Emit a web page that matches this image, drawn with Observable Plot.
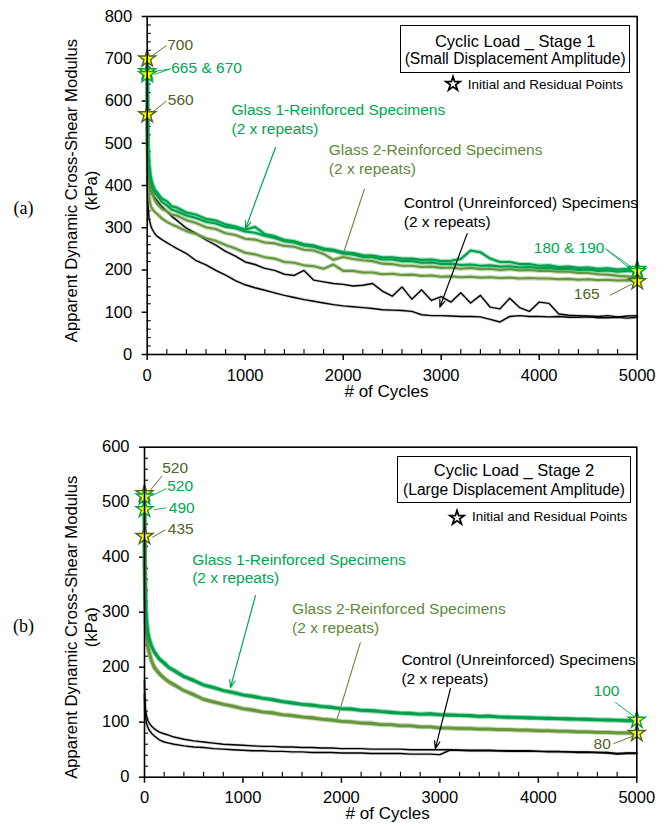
<!DOCTYPE html>
<html>
<head>
<meta charset="utf-8">
<script src="https://cdn.jsdelivr.net/npm/d3@7"></script>
<script src="https://cdn.jsdelivr.net/npm/@observablehq/plot@0.6"></script>
<style>
  body { margin: 0; background: #fff; font-family: "Liberation Sans", Arial, Helvetica, sans-serif; }
  #wrap { position: relative; width: 672px; height: 828px; overflow: hidden; background: #fff; }
  .panel { position: absolute; left: 0; }
  .tbox { position: absolute; border: 1.5px solid #000; box-sizing: border-box; }
  .tline { position: absolute; text-align: center; font-size: 16.5px; line-height: 20px; color: #000; white-space: nowrap; }
  .leg { position: absolute; font-size: 13.5px; line-height: 20px; color: #000; white-space: nowrap; }
  .legstar { position: absolute; width: 20px; height: 20px; }
</style>
</head>
<body>
<div id="wrap">
  <div class="panel" id="pa" style="top:0px"></div>
  <div class="panel" id="pb" style="top:420px"></div>
</div>
<script>
// ---------------- DATA ----------------
const cycles = [0,5,10,20,35,50,75,100,150,200,250,300,400,500,600,700,800,900,1000,1100,1200,1300,1400,1500,1600,1700,1800,1900,2000,2100,2200,2300,2400,2500,2600,2700,2800,2900,3000,3100,3200,3300,3400,3500,3600,3700,3800,3900,4000,4100,4200,4300,4400,4500,4600,4700,4800,4900,5000];

// Panel (a): Stage 1 (small displacement amplitude), kPa
const a_glass1_r1 = [670,540,488,452,421,407,391,384,369,363,351,348,336,331,321,317,308,303,296,302,285,280,271,268,261,258,251,248,242,240,235,234,230,230,227,227,224,225,221,222,226,246,242,227,219,219,214,214,210,211,207,208,205,206,203,204,201,203,202];
const a_glass1_r2 = [663,515,468,436,409,397,383,376,361,353,343,339,329,323,314,310,302,299,291,288,281,276,268,265,258,255,248,245,239,237,231,230,225,225,221,221,217,218,214,215,212,213,210,211,208,209,206,207,204,205,202,203,200,201,198,199,196,198,197];
const a_glass2_r1 = [700,500,452,418,394,381,366,357,345,339,331,329,318,311,301,297,287,283,274,272,265,263,257,255,248,246,238,224,231,226,223,221,215,214,210,210,207,208,205,206,203,205,202,203,200,202,199,200,198,198,196,196,193,193,190,189,186,185,182];
const a_glass2_r2 = [568,452,408,372,352,345,338,333,322,314,308,303,292,285,275,269,259,251,241,237,230,227,219,217,211,209,203,213,198,198,194,194,190,191,188,189,186,187,184,185,183,184,182,183,181,182,180,181,180,180,178,179,177,178,176,177,175,176,173];
const a_control_r1 = [440,422,411,399,389,381,372,364,350,339,327,318,299,286,271,259,244,233,219,213,204,199,190,187,199,176,172,168,166,162,164,168,150,138,160,131,153,128,137,124,146,122,140,112,108,133,111,102,124,121,96,93,92,91,90,92,89,91,92];
const a_control_r2 = [420,372,346,321,306,297,287,280,272,265,258,251,239,222,212,199,188,175,165,158,152,146,140,135,130,126,122,118,115,113,111,109,106,105,104,102,94,92,92,91,90,90,89,83,77,90,92,90,90,89,90,88,88,89,87,87,88,86,88];

// Panel (b): Stage 2 (large displacement amplitude), kPa
const b_glass1_r1 = [510,380,330,290,266,252,238,229,216,209,200,195,184,177,168,164,158,155,150,148,144,142,138,136,133,132,129,128,125,125,122,122,120,119,117,117,115,116,114,114,113,113,111,112,110,110,109,109,108,108,107,107,106,106,105,105,104,104,104];
const b_glass1_r2 = [487,360,318,284,262,249,236,226,214,206,198,193,182,175,167,162,157,153,149,146,143,140,137,134,132,130,128,126,124,123,121,120,119,117,116,115,114,114,113,112,112,111,110,110,109,108,108,107,107,106,106,105,105,104,104,103,103,102,102];
const b_glass2_r1 = [516,360,300,262,240,228,212,201,190,181,174,169,158,151,142,138,133,130,125,123,119,118,114,113,110,109,106,105,102,101,99,99,96,96,94,94,92,92,90,90,89,89,88,88,87,87,86,86,85,85,84,84,83,83,82,82,81,81,80];
const b_glass2_r2 = [438,330,285,252,233,222,208,198,187,179,172,167,157,149,141,136,132,128,124,121,118,116,113,111,109,107,105,103,101,100,98,97,95,95,93,93,91,91,89,89,88,88,87,87,86,86,85,85,84,84,83,83,82,82,81,81,80,80,79];
const b_control_r1 = [175,140,124,112,103,98,92,88,82,79,76,73,69,66,64,62,60,59,58,57,56,56,55,55,54,54,53,53,52,52,52,51,51,51,51,50,50,50,50,50,49,49,49,49,48,48,48,48,47,47,47,46,46,46,45,45,43,44,44];
const b_control_r2 = [150,125,110,98,90,85,79,75,68,64,62,60,57,55,54,52,51,50,49,48,48,47,47,46,46,45,45,45,44,44,44,43,43,43,43,42,42,42,41,49,49,48,48,48,48,47,47,47,47,46,46,46,45,45,45,44,42,43,43];

// Initial and residual points (stars)
const a_starCycle = [0,0,0,0,5000,5000,5000];
const a_starValue = [700,670,663,568,202,197,173];
const a_starGroup = ["Glass 2","Glass 1","Glass 1","Glass 2","Glass 1","Glass 1","Glass 2"];
const b_starCycle = [0,0,0,0,5000,5000];
const b_starValue = [516,510,487,438,104,80];
const b_starGroup = ["Glass 2","Glass 1","Glass 1","Glass 2","Glass 1","Glass 2"];

// Axis ticks
const xMajor = [0,1000,2000,3000,4000,5000];
const xMinor = [200,400,600,800,1200,1400,1600,1800,2200,2400,2600,2800,3200,3400,3600,3800,4200,4400,4600,4800];
const yMajorA = [0,100,200,300,400,500,600,700,800];
const yMinorA = [20,40,60,80,120,140,160,180,220,240,260,280,320,340,360,380,420,440,460,480,520,540,560,580,620,640,660,680,720,740,760,780];
const yMajorB = [0,100,200,300,400,500,600];
const yMinorB = [20,40,60,80,120,140,160,180,220,240,260,280,320,340,360,380,420,440,460,480,520,540,560,580];

// ---------------- STYLE ----------------
const FONT = '"Liberation Sans", Arial, Helvetica, sans-serif';
const LINE = {"Glass 1": "#00a04b", "Glass 2": "#66963c", "Control": "#000000"};
const TXT_G1 = "#00a650", TXT_G2 = "#5f8a3a", TXT_NUM2 = "#4f6228";

function toRows(list) {
  return list.flatMap(s => s.values.map((v, i) => ({cycle: cycles[i], value: v, series: s.name, group: s.group})));
}
function starRows(cs, vs, gs) {
  return cs.map((c, i) => ({cycle: c, value: vs[i], stroke: gs[i] === "Glass 1" ? "#00a04b" : "#4f6228"}));
}

function makePanel(cfg) {
  const {W, H, ml, mr, mt, mb, yMax, yMajor, yMinor, rows, stars, nums, blocks, links, arrows, plain, tag, yLab, xLab} = cfg;
  const fw = W - ml - mr, fh = H - mt - mb;
  const lineMarks = [];
  for (const g of ["Control", "Glass 2", "Glass 1"]) {
    const d = rows.filter(r => r.group === g);
    const isC = g === "Control";
    lineMarks.push(Plot.line(d, {x: "cycle", y: "value", z: "series", stroke: isC ? "#808080" : LINE[g], strokeWidth: isC ? 3 : 4.4, strokeOpacity: 0.35}));
    lineMarks.push(Plot.line(d, {x: "cycle", y: "value", z: "series", stroke: LINE[g], strokeWidth: isC ? 1.4 : 2.1}));
  }
  return Plot.plot({
    width: W, height: H,
    marginLeft: ml, marginRight: mr, marginTop: mt, marginBottom: mb,
    x: {domain: [0, 5000]},
    y: {domain: [0, yMax]},
    color: {type: "identity"},
    style: {fontFamily: FONT, fontSize: "16.5px", color: "#000", background: "transparent", overflow: "visible"},
    marks: [
      Plot.tickY(yMinor, {y: d => d, insetRight: fw - 4, stroke: "#000", strokeWidth: 1.1}),
      Plot.tickX(xMinor, {x: d => d, insetTop: fh - 5, stroke: "#000", strokeWidth: 1.1}),
      Plot.axisY({ticks: yMajor, tickSize: 5, tickPadding: 10, label: null, strokeWidth: 1.5, fontSize: 16.5, tickFormat: "d"}),
      Plot.axisX({ticks: xMajor, tickSize: 6, tickPadding: 8.5, label: null, strokeWidth: 1.5, fontSize: 16.5, tickFormat: "d"}),
      ...lineMarks,
      Plot.link(links, {x1: "x1", y1: "y1", x2: "x2", y2: "y2", stroke: "c", strokeWidth: 0.9}),
      Plot.link(plain, {x1: "x1", y1: "y1", x2: "x2", y2: "y2", stroke: "c", strokeWidth: 1.1}),
      Plot.arrow(arrows, {x1: "x1", y1: "y1", x2: "x2", y2: "y2", stroke: "c", strokeWidth: 1.2, headLength: 10, headAngle: 40}),
      Plot.dot(stars, {x: "cycle", y: "value", symbol: "star", r: 5.3, fill: "#ffff00", stroke: "stroke", strokeWidth: 1.4}),
      Plot.text(nums, {x: "x", y: "y", text: "t", fill: "c", textAnchor: "start", lineAnchor: "middle", fontSize: 15.5}),
      Plot.text(blocks, {x: "x", y: "y", text: "t", fill: "c", textAnchor: "start", lineAnchor: "middle", fontSize: 15.5, lineHeight: 1.2}),
      Plot.text([yLab.t], {text: d => d, frameAnchor: "left", lineAnchor: "middle", dx: yLab.dx, dy: yLab.dy, rotate: -90, fontSize: 16.7, lineHeight: 1.2, textAnchor: "middle", fill: "#000"}),
      Plot.text([xLab.t], {text: d => d, frameAnchor: "bottom", lineAnchor: "middle", dx: xLab.dx, dy: xLab.dy, fontSize: 17, textAnchor: "middle", fill: "#000"}),
      Plot.text([tag.t], {text: d => d, frameAnchor: "left", lineAnchor: "middle", dx: tag.dx, dy: tag.dy, fontSize: 18, fontFamily: '"Liberation Serif", "Times New Roman", serif', textAnchor: "middle", fill: "#000"}),
      Plot.frame({stroke: "#000", strokeWidth: 1.6})
    ]
  });
}

const YLABEL = "Apparent Dynamic Cross-Shear Modulus\n(kPa)";

// ---------------- PANEL (a) ----------------
const rowsA = toRows([
  {name: "a_g1_1", group: "Glass 1", values: a_glass1_r1},
  {name: "a_g1_2", group: "Glass 1", values: a_glass1_r2},
  {name: "a_g2_1", group: "Glass 2", values: a_glass2_r1},
  {name: "a_g2_2", group: "Glass 2", values: a_glass2_r2},
  {name: "a_c_1", group: "Control", values: a_control_r1},
  {name: "a_c_2", group: "Control", values: a_control_r2}
]);
const plotA = makePanel({
  W: 672, H: 410, ml: 146.7, mr: 35.3, mt: 16, mb: 56,
  yMax: 800, yMajor: yMajorA, yMinor: yMinorA, rows: rowsA,
  stars: starRows(a_starCycle, a_starValue, a_starGroup),
  nums: [
    {x: 204, y: 732, t: "700", c: TXT_NUM2},
    {x: 245, y: 679, t: "665 & 670", c: TXT_G1},
    {x: 210, y: 602, t: "560", c: TXT_NUM2},
    {x: 3945, y: 252, t: "180 & 190", c: TXT_G1},
    {x: 4353, y: 142, t: "165", c: TXT_NUM2}
  ],
  blocks: [
    {x: 860, y: 558, t: "Glass 1-Reinforced Specimens\n(2 x repeats)", c: TXT_G1},
    {x: 1853, y: 464, t: "Glass 2-Reinforced Specimens\n(2 x repeats)", c: TXT_G2},
    {x: 2618, y: 338, t: "Control (Unreinforced) Specimens\n(2 x repeats)", c: "#000"}
  ],
  links: [
    {x1: 50, y1: 707, x2: 195, y2: 731, c: TXT_NUM2},
    {x1: 67, y1: 670, x2: 238, y2: 676, c: TXT_G1},
    {x1: 74, y1: 663, x2: 238, y2: 676, c: TXT_G1},
    {x1: 51, y1: 573, x2: 195, y2: 600, c: TXT_NUM2},
    {x1: 4677, y1: 250, x2: 4965, y2: 203, c: TXT_G1},
    {x1: 4677, y1: 250, x2: 4965, y2: 196, c: TXT_G1},
    {x1: 4721, y1: 140, x2: 4949, y2: 167, c: TXT_NUM2}
  ],
  plain: [{x1: 2217, y1: 392, x2: 2006, y2: 242, c: TXT_G2}],
  arrows: [
    {x1: 1309, y1: 490, x2: 1003, y2: 298, c: TXT_G1},
    {x1: 3265, y1: 286, x2: 2986, y2: 112, c: "#000"}
  ],
  tag: {t: "(a)", dx: -123.7, dy: 22.5},
  yLab: {t: YLABEL, dx: -66.7, dy: 5},
  xLab: {t: "# of Cycles", dx: -5.7, dy: 37.5}
});
document.getElementById("pa").appendChild(plotA);

// ---------------- PANEL (b) ----------------
const rowsB = toRows([
  {name: "b_g1_1", group: "Glass 1", values: b_glass1_r1},
  {name: "b_g1_2", group: "Glass 1", values: b_glass1_r2},
  {name: "b_g2_1", group: "Glass 2", values: b_glass2_r1},
  {name: "b_g2_2", group: "Glass 2", values: b_glass2_r2},
  {name: "b_c_1", group: "Control", values: b_control_r1},
  {name: "b_c_2", group: "Control", values: b_control_r2}
]);
const plotB = makePanel({
  W: 672, H: 408, ml: 144, mr: 35.7, mt: 26.7, mb: 51.3,
  yMax: 600, yMajor: yMajorB, yMinor: yMinorB, rows: rowsB,
  stars: starRows(b_starCycle, b_starValue, b_starGroup),
  nums: [
    {x: 180, y: 562, t: "520", c: TXT_NUM2},
    {x: 230, y: 528.5, t: "520", c: TXT_G1},
    {x: 247, y: 488.5, t: "490", c: TXT_G1},
    {x: 237, y: 452, t: "435", c: TXT_NUM2},
    {x: 4561, y: 156, t: "100", c: TXT_G1},
    {x: 4561, y: 59.5, t: "80", c: TXT_NUM2}
  ],
  blocks: [
    {x: 484, y: 380, t: "Glass 1-Reinforced Specimens\n(2 x repeats)", c: TXT_G1},
    {x: 1499, y: 290, t: "Glass 2-Reinforced Specimens\n(2 x repeats)", c: TXT_G2},
    {x: 2609, y: 198, t: "Control (Unreinforced) Specimens\n(2 x repeats)", c: "#000"}
  ],
  links: [
    {x1: 61, y1: 522, x2: 180, y2: 548, c: TXT_NUM2},
    {x1: 78, y1: 512, x2: 223, y2: 525, c: TXT_G1},
    {x1: 95, y1: 486, x2: 223, y2: 490, c: TXT_G1},
    {x1: 78, y1: 436, x2: 213, y2: 450, c: TXT_NUM2},
    {x1: 4782, y1: 136, x2: 4985, y2: 109, c: TXT_G1},
    {x1: 4765, y1: 61, x2: 4951, y2: 74, c: TXT_NUM2}
  ],
  plain: [{x1: 2193, y1: 245, x2: 1956, y2: 106, c: TXT_G2}],
  arrows: [
    {x1: 1127, y1: 330, x2: 873, y2: 163, c: TXT_G1},
    {x1: 3107, y1: 161, x2: 2954, y2: 52, c: "#000"}
  ],
  tag: {t: "(b)", dx: -121, dy: 14},
  yLab: {t: YLABEL, dx: -64, dy: 15},
  xLab: {t: "# of Cycles", dx: -3, dy: 36}
});
document.getElementById("pb").appendChild(plotB);

// ---------------- TITLE BOXES & LEGENDS (HTML overlay) ----------------
const wrap = document.getElementById("wrap");
function titleBox(left, top, w, h, l1, l2, b1, b2) {
  const box = document.createElement("div");
  box.className = "tbox";
  Object.assign(box.style, {left: left + "px", top: top + "px", width: w + "px", height: h + "px"});
  wrap.appendChild(box);
  [[l1, b1, 16.5], [l2, b2, 15.6]].forEach(([t, base, fs]) => {
    const s = document.createElement("div");
    s.className = "tline";
    s.textContent = t;
    const asc = 0.905 * fs, half = (20 - 1.117 * fs) / 2;
    Object.assign(s.style, {left: left + "px", width: w + "px", fontSize: fs + "px", top: (base - asc - half) + "px"});
    wrap.appendChild(s);
  });
}
function legend(cx, cy, textLeft, baseline) {
  const ns = "http://www.w3.org/2000/svg";
  const svg = document.createElementNS(ns, "svg");
  svg.setAttribute("class", "legstar");
  svg.setAttribute("width", 20); svg.setAttribute("height", 20);
  svg.setAttribute("viewBox", "-10 -10 20 20");
  svg.style.left = (cx - 10) + "px"; svg.style.top = (cy - 10) + "px";
  const p = document.createElementNS(ns, "path");
  p.setAttribute("d", d3.symbol(d3.symbolStar, 62)());
  p.setAttribute("fill", "#fff"); p.setAttribute("stroke", "#000"); p.setAttribute("stroke-width", 1.8);
  svg.appendChild(p);
  wrap.appendChild(svg);
  const t = document.createElement("div");
  t.className = "leg";
  t.textContent = "Initial and Residual Points";
  t.style.left = textLeft + "px"; t.style.top = (baseline - 14.7) + "px";
  wrap.appendChild(t);
}
titleBox(400, 25.3, 230.3, 47.4, "Cyclic Load _ Stage 1", "(Small Displacement Amplitude)", 46.5, 64.3);
legend(452.7, 84.3, 467.7, 89.3);
titleBox(397, 455.7, 234, 47, "Cyclic Load _ Stage 2", "(Large Displacement Amplitude)", 476, 495);
legend(456.7, 517.7, 472, 521.7);
</script>
</body>
</html>
